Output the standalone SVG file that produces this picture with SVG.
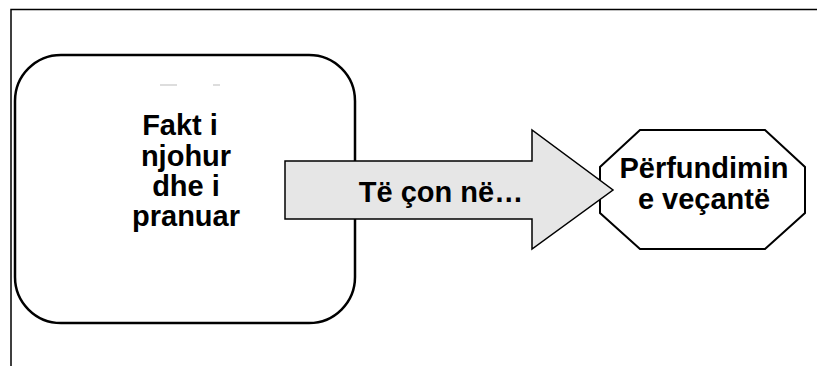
<svg xmlns="http://www.w3.org/2000/svg" width="817" height="366" viewBox="0 0 817 366">
<style>
.lbl{font-family:"Liberation Sans",Arial,sans-serif;font-weight:bold;font-size:29px;fill:#000;text-anchor:middle}
.frame{fill:none;stroke:#000;stroke-width:1.5}
</style>
<rect width="817" height="366" fill="#fff"/>
<g id="frame">
<path class="frame" d="M11 366 V9.5 H817"/>
</g>
<g id="node-fakt">
<rect x="15" y="55" width="340" height="268" rx="46" ry="46" fill="#fff" stroke="#000" stroke-width="2.5"/>
<line x1="160" y1="85" x2="177" y2="85" stroke="#bbb" stroke-width="1"/>
<line x1="213" y1="85" x2="220" y2="85" stroke="#bbb" stroke-width="1"/>
<text class="lbl"><tspan x="180" y="135">Fakt i</tspan><tspan x="186" y="166">njohur</tspan><tspan x="186" y="196">dhe i</tspan><tspan x="186" y="226">pranuar</tspan></text>
</g>
<g id="node-perfundimin">
<polygon points="640,130 765,130 805,167 805,213 765,249 640,249 600,213 600,167" fill="#fff" stroke="#000" stroke-width="2"/>
<text class="lbl"><tspan x="704" y="178">Përfundimin</tspan><tspan x="704" y="209">e veçantë</tspan></text>
</g>
<g id="connectors">
<polygon points="285,161 532,161 532,130 613,190 532,249 532,219 285,219" fill="#e6e6e6" stroke="#000" stroke-width="1.5"/>
<text class="lbl" x="441" y="202">Të çon në…</text>
</g>
</svg>
